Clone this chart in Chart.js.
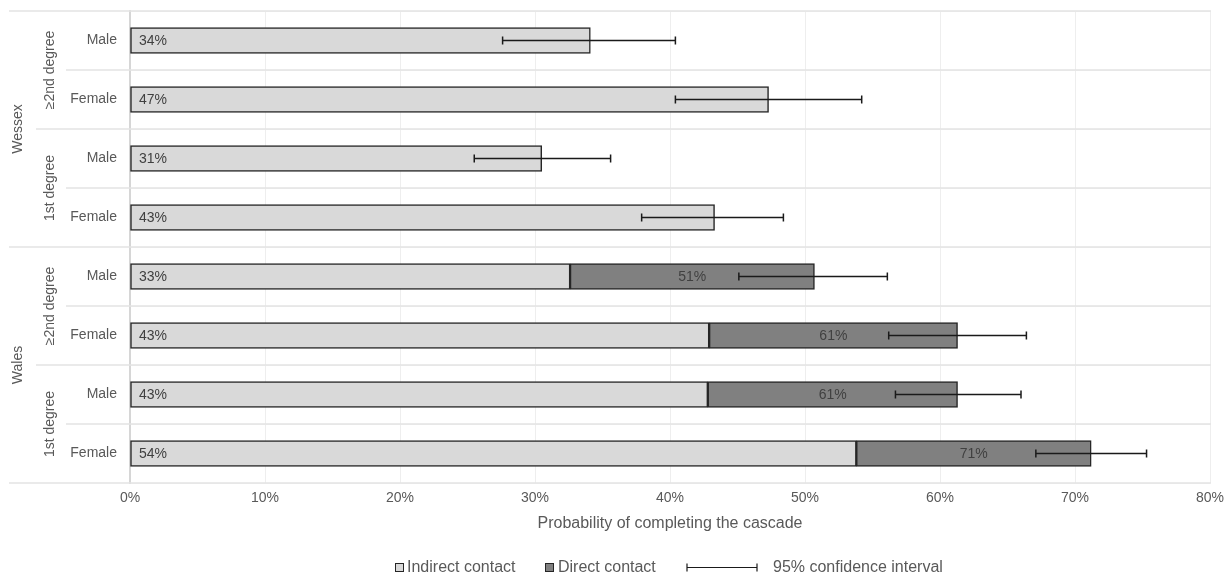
<!DOCTYPE html>
<html>
<head>
<meta charset="utf-8">
<script src="https://cdn.jsdelivr.net/npm/chart.js@4"></script>
<style>
html,body{margin:0;padding:0;background:#fff;}
#wrap{width:1232px;height:577px;}
</style>
</head>
<body>
<div id="wrap"><canvas id="c" width="1232" height="577"></canvas></div>
<script>
// ---- data ----
const regions = ['Wessex', 'Wales'];
const degrees = ['≥2nd degree', '1st degree'];
const categories = ['Male', 'Female', 'Male', 'Female', 'Male', 'Female', 'Male', 'Female'];
const indirect = [34.1, 47.3, 30.5, 43.3, 32.6, 42.9, 42.8, 53.8];
const indirectLabels = ['34%', '47%', '31%', '43%', '33%', '43%', '43%', '54%'];
const directTotal = [null, null, null, null, 50.7, 61.3, 61.3, 71.2];
const directLabels = ['', '', '', '', '51%', '61%', '61%', '71%'];
const ciLow = [27.6, 40.4, 25.5, 37.9, 45.1, 56.2, 56.7, 67.1];
const ciHigh = [40.4, 54.2, 35.6, 48.4, 56.1, 66.4, 66.0, 75.3];
const xTicks = [0, 10, 20, 30, 40, 50, 60, 70, 80];

const FONT = '"Liberation Sans", Arial, sans-serif';
const TXT = '#595959';

const directData = directTotal.map((t, i) => t == null ? null : [indirect[i], t]);

const overlay = {
  id: 'overlay',
  afterDatasetsDraw(chart) {
    const ctx = chart.ctx, x = chart.scales.x, y = chart.scales.y;
    ctx.save();
    ctx.strokeStyle = '#1a1a1a';
    ctx.lineWidth = 1.5;
    for (let i = 0; i < categories.length; i++) {
      const yc = y.getPixelForValue(i);
      const x1 = x.getPixelForValue(ciLow[i]), x2 = x.getPixelForValue(ciHigh[i]);
      ctx.beginPath();
      ctx.moveTo(x1, yc); ctx.lineTo(x2, yc);
      ctx.moveTo(x1, yc - 4); ctx.lineTo(x1, yc + 4);
      ctx.moveTo(x2, yc - 4); ctx.lineTo(x2, yc + 4);
      ctx.stroke();
    }
    ctx.font = '14px ' + FONT;
    ctx.fillStyle = '#404040';
    ctx.textBaseline = 'middle';
    for (let i = 0; i < categories.length; i++) {
      const yc = y.getPixelForValue(i);
      ctx.textAlign = 'left';
      ctx.fillText(indirectLabels[i], x.getPixelForValue(0) + 9, yc + 1);
      if (directTotal[i] != null) {
        ctx.textAlign = 'center';
        const xm = (x.getPixelForValue(indirect[i]) + x.getPixelForValue(directTotal[i])) / 2;
        ctx.fillText(directLabels[i], xm, yc + 1);
      }
    }
    ctx.restore();
  },
  beforeDatasetsDraw(chart) {
    const ctx = chart.ctx, ca = chart.chartArea;
    const n = categories.length;
    const step = (ca.bottom - ca.top) / n;
    ctx.save();
    ctx.strokeStyle = '#e3e3e3';
    ctx.lineWidth = 1.5;
    for (let b = 0; b <= n; b++) {
      const yy = ca.top + b * step;
      let x0;
      if (b === 0 || b === n || b === 4) x0 = 9;
      else if (b % 2 === 0) x0 = 36;
      else x0 = 66;
      ctx.beginPath();
      ctx.moveTo(x0, yy); ctx.lineTo(ca.right + 1, yy);
      ctx.stroke();
    }
    ctx.fillStyle = TXT;
    ctx.textAlign = 'center';
    ctx.textBaseline = 'middle';
    ctx.font = '14px ' + FONT;
    for (let r = 0; r < regions.length; r++) {
      for (let d = 0; d < degrees.length; d++) {
        const yc = ca.top + (r * 4 + d * 2 + 1) * step;
        ctx.save(); ctx.translate(50, yc); ctx.rotate(-Math.PI / 2);
        ctx.fillText(degrees[d], 0, 0); ctx.restore();
      }
      const yr = ca.top + (r * 4 + 2) * step;
      ctx.save(); ctx.translate(18, yr); ctx.rotate(-Math.PI / 2);
      ctx.fillText(regions[r], 0, 0); ctx.restore();
    }
    ctx.restore();
  },
  afterDraw(chart) {
    const ctx = chart.ctx;
    const yl = 568;
    ctx.save();
    ctx.font = '16px ' + FONT;
    ctx.textBaseline = 'middle';
    ctx.textAlign = 'left';
    ctx.lineWidth = 1;
    ctx.strokeStyle = '#262626';
    ctx.fillStyle = '#d9d9d9';
    ctx.fillRect(395.5, yl - 4.5, 8, 8); ctx.strokeRect(395.5, yl - 4.5, 8, 8);
    ctx.fillStyle = TXT; ctx.fillText('Indirect contact', 407, yl);
    ctx.fillStyle = '#808080';
    ctx.fillRect(545.5, yl - 4.5, 8, 8); ctx.strokeRect(545.5, yl - 4.5, 8, 8);
    ctx.fillStyle = TXT; ctx.fillText('Direct contact', 558, yl);
    ctx.strokeStyle = '#1a1a1a'; ctx.lineWidth = 1.2;
    ctx.beginPath();
    ctx.moveTo(687, yl - 0.5); ctx.lineTo(757, yl - 0.5);
    ctx.moveTo(687, yl - 4.5); ctx.lineTo(687, yl + 3.5);
    ctx.moveTo(757, yl - 4.5); ctx.lineTo(757, yl + 3.5);
    ctx.stroke();
    ctx.fillText('95% confidence interval', 773, yl);
    ctx.restore();
  }
};

new Chart(document.getElementById('c'), {
  type: 'bar',
  data: {
    labels: categories,
    datasets: [
      {
        label: 'Indirect contact',
        data: indirect,
        backgroundColor: '#d9d9d9',
        borderColor: '#262626',
        borderWidth: 1.5,
        borderSkipped: false,
        barThickness: 26,
        grouped: false,
        order: 2
      },
      {
        label: 'Direct contact',
        data: directData,
        backgroundColor: '#808080',
        borderColor: '#262626',
        borderWidth: 1.5,
        borderSkipped: false,
        barThickness: 26,
        grouped: false,
        order: 1
      }
    ]
  },
  options: {
    indexAxis: 'y',
    responsive: false,
    animation: false,
    maintainAspectRatio: false,
    layout: { padding: { top: 11, right: 22, left: 0, bottom: 44 } },
    plugins: { legend: { display: false }, tooltip: { enabled: false } },
    scales: {
      x: {
        min: 0, max: 80,
        afterBuildTicks(scale) { scale.ticks = xTicks.map(v => ({ value: v })); },
        ticks: {
          callback: v => v + '%',
          color: TXT,
          font: { family: FONT, size: 14 },
          padding: 7,
          maxRotation: 0
        },
        grid: { color: '#eeeeee', lineWidth: 1, drawTicks: false },
        border: { display: false },
        title: {
          display: true,
          text: 'Probability of completing the cascade',
          color: TXT,
          font: { family: FONT, size: 16 },
          padding: { top: 0, bottom: 0 }
        }
      },
      y: {
        afterFit(scale) { scale.width = 130; scale.paddingTop = 0; scale.paddingBottom = 0; },
        ticks: {
          color: TXT,
          font: { family: FONT, size: 14 },
          padding: 13
        },
        grid: { color: '#f3f3f3', lineWidth: 1, drawTicks: false },
        border: { display: true, color: '#d6d6d6', width: 2 }
      }
    }
  },
  plugins: [overlay]
});
</script>
</body>
</html>
